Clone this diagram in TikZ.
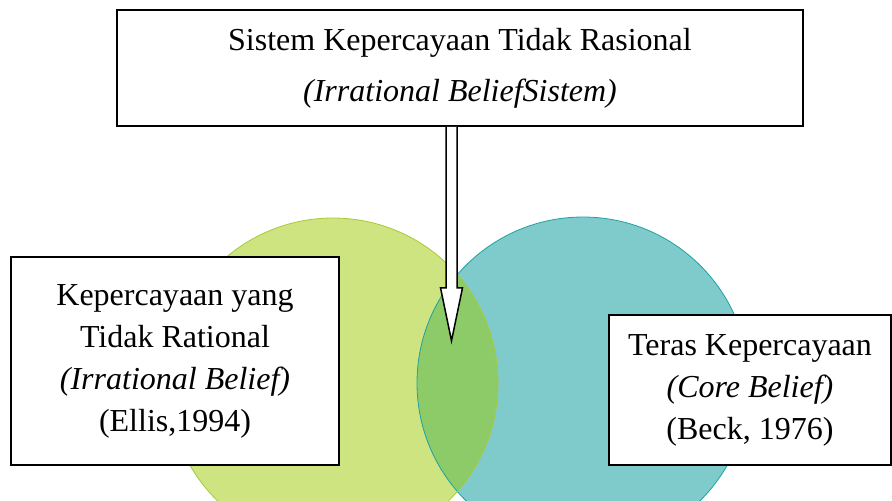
\documentclass[tikz,border=0pt]{standalone}
\usepackage{fontspec}
\setmainfont{Liberation Serif}
\usetikzlibrary{calc}
\definecolor{limefill}{HTML}{CEE480}
\definecolor{limeline}{HTML}{A8CA34}
\definecolor{tealfill}{HTML}{7FCBCB}
\definecolor{tealline}{HTML}{1FA2A2}
\definecolor{lensfill}{HTML}{8CCB68}

\begin{document}
\begin{tikzpicture}[x=0.5pt,y=-0.5pt,
    beliefbox/.style={draw,fill=white,line width=0.75pt,align=center,
      inner sep=0pt,font=\fontsize{16}{21}\selectfont},
    hollow/.style={draw,fill=white,line width=0.75pt,line join=miter}]
  \useasboundingbox (0,0) rectangle (892,500);
  \fill[limefill] (333,383) circle[radius=165];
  \fill[tealfill] (583,383) circle[radius=166];
  \begin{scope}
    \clip (333,383) circle[radius=165];
    \fill[lensfill] (583,383) circle[radius=166];
  \end{scope}
  \draw[tealline,line width=0.4pt] (583,383) circle[radius=166];
  \draw[limeline,line width=0.4pt] (333,383) circle[radius=165];
  \node[beliefbox,minimum width=343pt,minimum height=58pt] (sistem) at (460,68)
    {Sistem Kepercayaan Tidak Rasional\\[4.5pt]\textit{(Irrational BeliefSistem)}};
  \coordinate (tail) at ($(sistem.south)+(-8.5,0)$);
  \coordinate (tip) at ($(tail)+(0,214)$);
  \path[hollow] ($(tail)+(-5.5,0)$) -- ($(tip)+(-5.5,-53)$) -- ++(-5.5,0)
    -- (tip) -- ($(tip)+(11,-53)$) -- ++(-5.5,0) -- ($(tail)+(5.5,0)$);
  \node[beliefbox,minimum width=164pt,minimum height=104pt] (ellis) at (175,361)
    {Kepercayaan yang\\Tidak Rational\\\textit{(Irrational Belief)}\\(Ellis,1994)};
  \node[beliefbox,minimum width=141pt,minimum height=75pt] (beck) at (750,390)
    {Teras Kepercayaan\\\textit{(Core Belief)}\\(Beck, 1976)};
\end{tikzpicture}
\end{document}
